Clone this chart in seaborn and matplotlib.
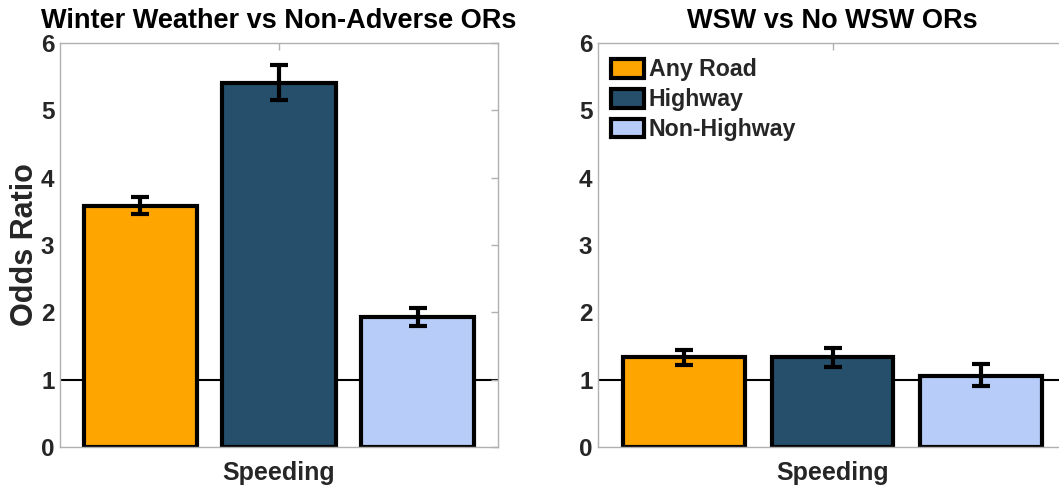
import numpy as np
import pandas as pd
import matplotlib
matplotlib.use("Agg")
import matplotlib.pyplot as plt
import seaborn as sns

# data
roads = ["Any Road", "Highway", "Non-Highway"]
colors = ["#FFA500", "#254F6B", "#B8CCFA"]

ww_or = [3.58, 5.40, 1.93]
ww_lo = [3.46, 5.15, 1.80]
ww_hi = [3.72, 5.67, 2.07]

wsw_or = [1.33, 1.33, 1.06]
wsw_lo = [1.22, 1.19, 0.90]
wsw_hi = [1.44, 1.47, 1.24]

sns.set_style("white")
plt.rcParams["font.family"] = ["Liberation Sans", "DejaVu Sans"]
plt.rcParams["font.weight"] = "bold"

fig = plt.figure(figsize=(10.59, 4.88), dpi=100)
ax1 = fig.add_axes([60 / 1059, 41 / 488, 438 / 1059, 404 / 488])
ax2 = fig.add_axes([598 / 1059, 41 / 488, 469 / 1059, 404 / 488])


def draw(ax, vals, lo, hi, title):
    df = pd.DataFrame({"behavior": "Speeding", "road": roads, "OR": vals})
    ax.axhline(1, color="black", lw=1.5, zorder=0)
    sns.barplot(data=df, x="behavior", y="OR", hue="road", hue_order=roads,
                palette=colors, width=0.8, gap=0.18, saturation=1,
                edgecolor="black", linewidth=3, legend=False, ax=ax, zorder=2)
    bars = ax.patches[:3]
    xs = [b.get_x() + b.get_width() / 2 for b in bars]
    v = np.array(vals)
    yerr = [v - np.array(lo), np.array(hi) - v]
    ax.errorbar(xs, v, yerr=yerr, fmt="none", ecolor="black", elinewidth=3,
                capsize=6.5, capthick=3, zorder=3)
    ax.set_xlim(-0.4215, 0.4215)
    ax.set_ylim(0, 6)
    ax.set_yticks(range(7))
    ax.set_xlabel("")
    ax.set_ylabel("")
    ax.set_xticks([0])
    ax.set_xticklabels(["Speeding"], fontsize=18, fontweight="bold", color="#262626")
    ax.tick_params(axis="y", labelsize=17.5, labelcolor="#262626", pad=4)
    ax.tick_params(axis="x", pad=10)
    ax.tick_params(direction="in", top=True, right=True, length=5, width=1,
                   color="#b0b0b0")
    for s in ax.spines.values():
        s.set_color("#b0b0b0")
        s.set_linewidth(1)
    for lbl in ax.get_yticklabels():
        lbl.set_fontweight("bold")
    ax.set_title(title, fontsize=19.5, fontweight="bold", color="black", pad=11)
    return bars


draw(ax1, ww_or, ww_lo, ww_hi, "Winter Weather vs Non-Adverse ORs")
draw(ax2, wsw_or, wsw_lo, wsw_hi, "WSW vs No WSW ORs")
ax1.set_ylabel("Odds Ratio", fontsize=22, fontweight="bold", color="#262626", labelpad=1)

handles = [plt.Rectangle((0, 0), 1, 1, facecolor=c, edgecolor="black", lw=3) for c in colors]
ax2.legend(handles, roads, loc="upper left", frameon=False,
           handlelength=1.4, handleheight=0.85, handletextpad=0.2,
           labelspacing=0.3, borderaxespad=0.0, bbox_to_anchor=(0.009, 0.985),
           prop={"weight": "bold", "size": 16.7})

fig.savefig("out.png", dpi=100)
